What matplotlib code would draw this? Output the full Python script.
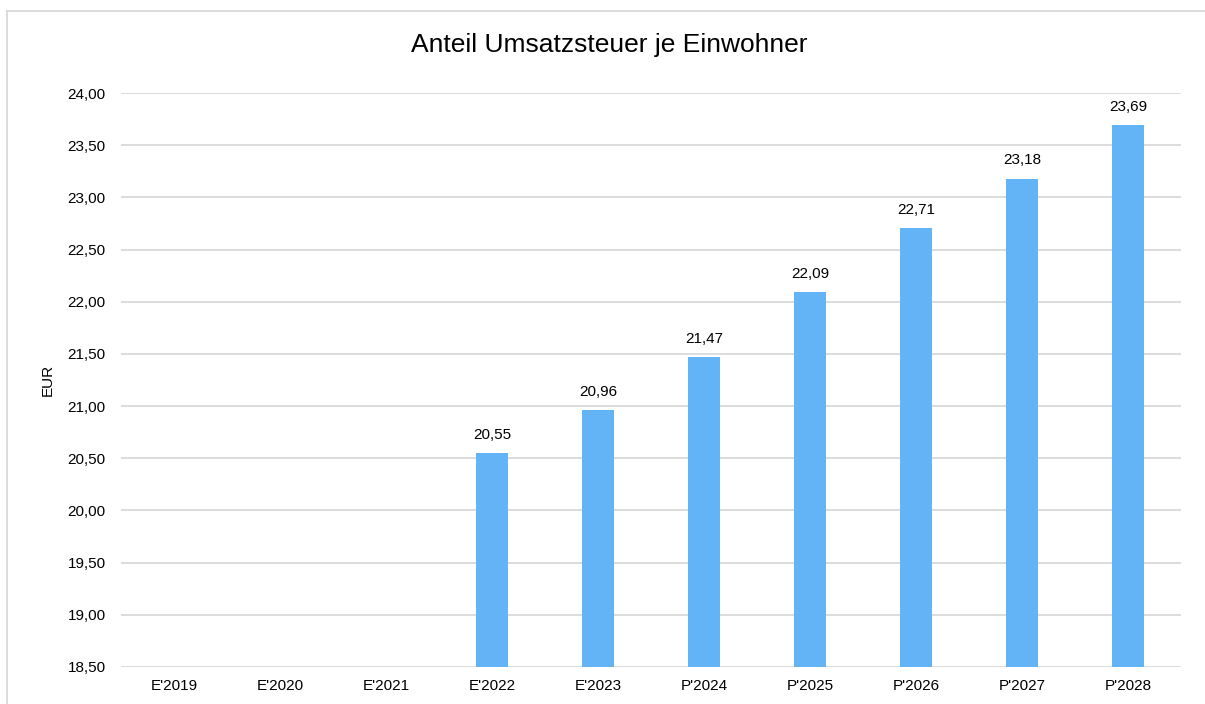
from matplotlib import pyplot as plt
import numpy as np

# chart data
categories = ["E'2019", "E'2020", "E'2021", "E'2022", "E'2023",
              "P'2024", "P'2025", "P'2026", "P'2027", "P'2028"]
values = [np.nan, np.nan, np.nan, 20.55, 20.96, 21.47, 22.09, 22.71, 23.18, 23.69]
y_ticks = [18.5, 19.0, 19.5, 20.0, 20.5, 21.0, 21.5, 22.0, 22.5, 23.0, 23.5, 24.0]

plt.rcParams['font.family'] = ['Liberation Sans', 'DejaVu Sans']

fig = plt.figure(figsize=(12.05, 7.04), dpi=100)
ax = fig.add_axes([121 / 1205, 1 - 667 / 704, 1060 / 1205, (667 - 93) / 704])

x = np.arange(len(categories))
bars = ax.bar(x, values, width=0.31, color="#63B4F6", zorder=3)

# value labels above the bars, german decimal comma
for xi, v in zip(x, values):
    if not np.isnan(v):
        ax.annotate("{:.2f}".format(v).replace(".", ","), (xi, v),
                    xytext=(0, 8), textcoords="offset points",
                    ha="center", va="bottom", fontsize=11, color="#000000")

ax.set_xlim(-0.5, len(categories) - 0.5)
ax.set_ylim(18.5, 24.0)
ax.set_yticks(y_ticks)
ax.set_yticklabels(["{:.2f}".format(t).replace(".", ",") for t in y_ticks])
ax.set_xticks(x)
ax.set_xticklabels(categories)
ax.tick_params(axis="both", length=0, labelsize=11, colors="#000000")
ax.tick_params(axis="y", pad=11)
ax.tick_params(axis="x", pad=9)

ax.grid(axis="y", color="#D9D9D9", linewidth=1.3, zorder=0)
for s in ax.spines.values():
    s.set_visible(False)

ax.set_ylabel("EUR", fontsize=11, labelpad=9)
fig.text(609 / 1205, 1 - 45 / 704, "Anteil Umsatzsteuer je Einwohner",
         ha="center", va="center", fontsize=19)

# outer chart frame (only top and left edges are visible)
fig.add_artist(plt.Line2D([7.5 / 1205, 7.5 / 1205], [0, 1 - 10.5 / 704],
                          color="#D9D9D9", linewidth=1.3))
fig.add_artist(plt.Line2D([7.5 / 1205, 1], [1 - 10.5 / 704, 1 - 10.5 / 704],
                          color="#D9D9D9", linewidth=1.3))

fig.savefig("out.png", dpi=100)
